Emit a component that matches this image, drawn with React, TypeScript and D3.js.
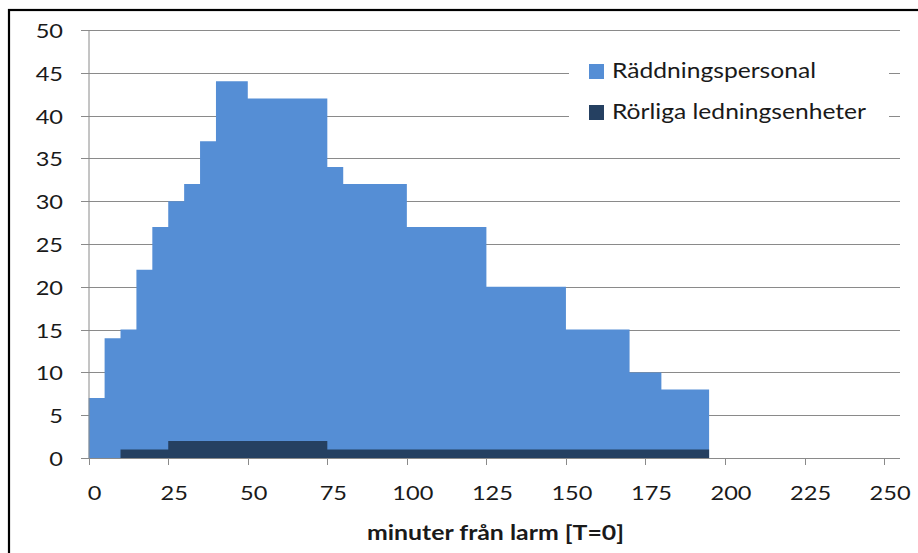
import React from "react";
import * as d3 from "d3";

const personnelStarts = [0, 5, 10, 15, 20, 25, 30, 35, 40, 50, 75, 80, 100, 125, 150, 170, 180];
const personnelValues = [7, 14, 15, 22, 27, 30, 32, 37, 44, 42, 34, 32, 27, 20, 15, 10, 8];
const personnelEnd = 195;

const unitStarts = [0, 10, 25, 75];
const unitValues = [0, 1, 2, 1];
const unitEnd = 195;

const xTicks = [0, 25, 50, 75, 100, 125, 150, 175, 200, 225, 250];
const yTicks = [0, 5, 10, 15, 20, 25, 30, 35, 40, 45, 50];
const seriesNames = ["Räddningspersonal", "Rörliga ledningsenheter"];
const seriesColors = ["#558ED5", "#254061"];
const xTitle = "minuter från larm [T=0]";

const W = 918;
const H = 553;
const FONT = "Lato, 'Open Sans', sans-serif";
const SX = 1.18;

export default function App() {
  const x = d3.scaleLinear().domain([0, 255]).range([88.7, 900]);
  const y = d3.scaleLinear().domain([0, 50]).range([458, 30]);

  const toPts = (starts: number[], vals: number[], end: number) => {
    const pts = starts.map((s, i) => [s, vals[i]] as [number, number]);
    pts.push([end, vals[vals.length - 1]]);
    return pts;
  };

  const area = d3
    .area<[number, number]>()
    .x((d) => x(d[0]))
    .y0(y(0))
    .y1((d) => y(d[1]))
    .curve(d3.curveStepAfter);

  const pPath = area(toPts(personnelStarts, personnelValues, personnelEnd)) || "";
  const uPath = area(toPts(unitStarts, unitValues, unitEnd)) || "";

  const grid = "#8a8a8a";
  const txt = "#1a1a1a";

  return (
    <svg
      width={W}
      height={H}
      style={{ position: "absolute", left: 0, top: 0, background: "#fff" }}
      fontFamily={FONT}
    >
      <rect x={0} y={0} width={W} height={H} fill="#fff" />
      {/* outer chart border */}
      <rect x={9} y={10} width={W + 20} height={H + 20} fill="none" stroke="#000" strokeWidth={2.2} />

      {/* gridlines + y ticks */}
      {yTicks.map((t) => (
        <g key={"g" + t}>
          <line x1={81} x2={900} y1={Math.round(y(t)) + 0.5} y2={Math.round(y(t)) + 0.5} stroke={grid} strokeWidth={1} />
          <text
            transform={`translate(63,${y(t) + 8}) scale(${SX},1)`}
            textAnchor="end"
            fontSize={20}
            fill={txt}
          >
            {t}
          </text>
        </g>
      ))}

      {/* areas */}
      <path d={pPath} fill={seriesColors[0]} />
      <path d={uPath} fill={seriesColors[1]} />

      {/* y axis line */}
      <line x1={89} x2={89} y1={y(50)} y2={y(0)} stroke={grid} strokeWidth={1} />
      {/* x axis */}
      <line x1={81} x2={900} y1={Math.round(y(0)) + 0.5} y2={Math.round(y(0)) + 0.5} stroke={grid} strokeWidth={1} />
      {xTicks.map((t) => (
        <g key={"x" + t}>
          <line x1={Math.round(x(t)) + 0.5} x2={Math.round(x(t)) + 0.5} y1={y(0)} y2={y(0) + 7} stroke={grid} strokeWidth={1} />
          <text
            transform={`translate(${x(t) + 6},499.5) scale(${SX},1)`}
            textAnchor="middle"
            fontSize={20}
            fill={txt}
          >
            {t}
          </text>
        </g>
      ))}

      {/* x title */}
      <text
        x={367}
        y={540}
        fontSize={20.5}
        fontWeight="bold"
        fill={txt}
        textLength={257}
        lengthAdjust="spacingAndGlyphs"
      >
        {xTitle}
      </text>

      {/* legend */}
      <rect x={569} y={48} width={320} height={86} fill="#fff" />
      {seriesNames.map((n, i) => (
        <g key={n}>
          <rect x={589} y={64 + i * 41} width={15} height={15} fill={seriesColors[i]} />
          <text
            x={612}
            y={77.5 + i * 41}
            fontSize={20.5}
            fill={txt}
            textLength={i === 0 ? 204 : 254}
            lengthAdjust="spacingAndGlyphs"
          >
            {n}
          </text>
        </g>
      ))}
    </svg>
  );
}
